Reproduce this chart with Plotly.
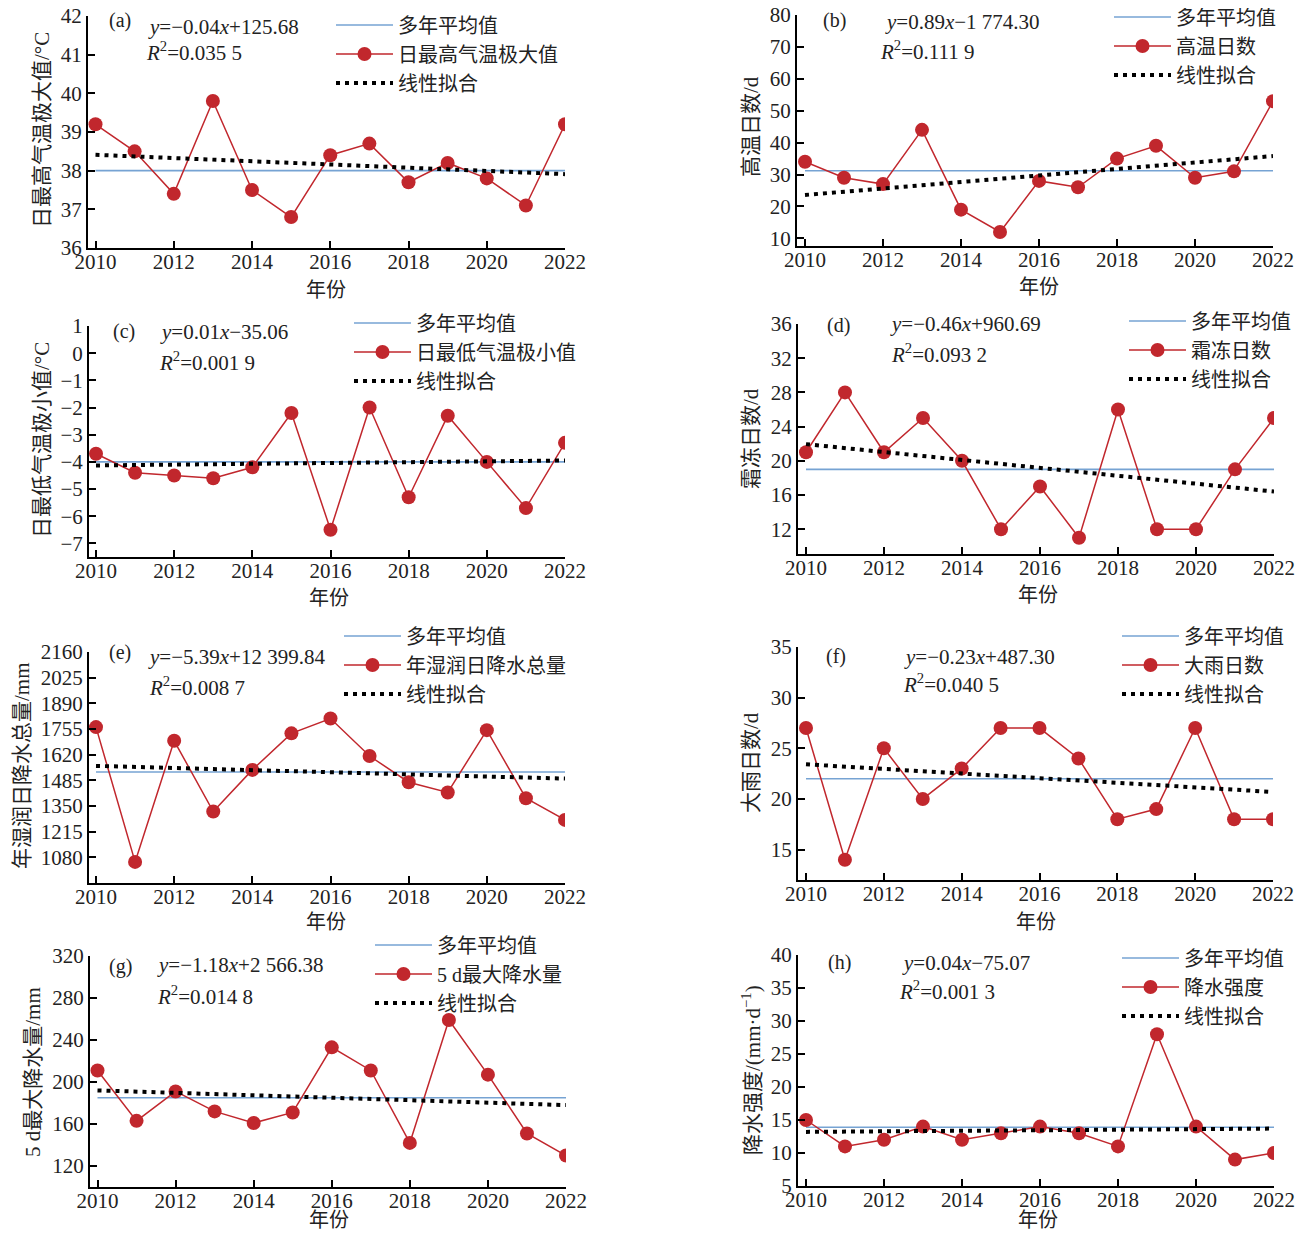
import plotly.graph_objects as go

W, H = 1306, 1238          # browser window
OFF = 8                    # default page margin of the html body
FW, FH = W - 2 * OFF, H - 2 * OFF

years = list(range(2010, 2023))
fit_years = [2010, 2022]

# ---------------- data ----------------
# (a) 日最高气温极大值 /°C
tmax_ext = [39.2, 38.5, 37.4, 39.8, 37.5, 36.8, 38.4, 38.7, 37.7, 38.2, 37.8, 37.1, 39.2]
tmax_mean = 38.0
tmax_fit = [38.41, 37.91]
tmax_ticks = [36, 37, 38, 39, 40, 41, 42]

# (b) 高温日数 /d
hot_days = [34, 29, 27, 44, 19, 12, 28, 26, 35, 39, 29, 31, 53]
hot_mean = 31.2
hot_fit = [23.6, 35.8]
hot_ticks = [10, 20, 30, 40, 50, 60, 70, 80]

# (c) 日最低气温极小值 /°C
tmin_ext = [-3.7, -4.4, -4.5, -4.6, -4.2, -2.2, -6.5, -2.0, -5.3, -2.3, -4.0, -5.7, -3.3]
tmin_mean = -4.0
tmin_fit = [-4.13, -3.95]
tmin_ticks = [-7, -6, -5, -4, -3, -2, -1, 0, 1]

# (d) 霜冻日数 /d
frost_days = [21, 28, 21, 25, 20, 12, 17, 11, 26, 12, 12, 19, 25]
frost_mean = 19.0
frost_fit = [21.95, 16.4]
frost_ticks = [12, 16, 20, 24, 28, 32, 36]

# (e) 年湿润日降水总量 /mm
wet_total = [1765, 1056, 1693, 1321, 1540, 1732, 1810, 1613, 1475, 1421, 1749, 1391, 1277]
wet_mean = 1529
wet_fit = [1561, 1494]
wet_ticks = [1080, 1215, 1350, 1485, 1620, 1755, 1890, 2025, 2160]

# (f) 大雨日数 /d
heavy_days = [27, 14, 25, 20, 23, 27, 27, 24, 18, 19, 27, 18, 18]
heavy_mean = 22.0
heavy_fit = [23.42, 20.69]
heavy_ticks = [15, 20, 25, 30, 35]

# (g) 5 d最大降水量 /mm
rx5 = [211, 163, 191, 172, 161, 171, 233, 211, 142, 259, 207, 151, 130]
rx5_mean = 185
rx5_fit = [192, 178]
rx5_ticks = [120, 160, 200, 240, 280, 320]

# (h) 降水强度 /(mm·d-1)
intensity = [15, 11, 12, 14, 12, 13, 14, 13, 11, 28, 14, 9, 10]
int_mean = 13.9
int_fit = [13.2, 13.7]
int_ticks = [5, 10, 15, 20, 25, 30, 35, 40]

year_ticks = [2010, 2012, 2014, 2016, 2018, 2020, 2022]

# ---------------- style ----------------
FONT = "Times New Roman, Liberation Serif, Noto Sans CJK SC, serif"
TXT = "#222222"
RED = "#C1272D"
BLUE = "#76A3D3"
FS = 21
LFS = 20

def px(x):
    return (x - OFF) / FW

def py(y):
    return 1 - (y - OFF) / FH

panels = [
    dict(name="日最高气温极大值", vals=tmax_ext, mean=tmax_mean, fit=tmax_fit, ticks=tmax_ticks,
         yr=[36, 42], ytitle="日最高气温极大值/°C", lab="(a)",
         eq="<i>y</i>=−0.04<i>x</i>+125.68", r2="<i>R</i><sup>2</sup>=0.035 5",
         box=(88, 95.5, 565, 16, 248), labp=(107, 21), eqp=(146, 27), r2p=(144, 52),
         leg=(338, 25), ytp=(42, 130), xtp=(326, 290)),
    dict(name="高温日数", vals=hot_days, mean=hot_mean, fit=hot_fit, ticks=hot_ticks,
         yr=[7.6, 80], ytitle="高温日数/d", lab="(b)",
         eq="<i>y</i>=0.89<i>x</i>−1 774.30", r2="<i>R</i><sup>2</sup>=0.111 9",
         box=(797, 805, 1273, 15, 246), labp=(821, 21), eqp=(883, 22), r2p=(878, 50),
         leg=(1116, 17), ytp=(751, 127), xtp=(1039, 287)),
    dict(name="日最低气温极小值", vals=tmin_ext, mean=tmin_mean, fit=tmin_fit, ticks=tmin_ticks,
         yr=[-7.5, 1], ytitle="日最低气温极小值/°C", lab="(c)",
         eq="<i>y</i>=0.01<i>x</i>−35.06", r2="<i>R</i><sup>2</sup>=0.001 9",
         box=(89, 96, 565, 326, 557), labp=(111, 331), eqp=(158, 332), r2p=(157, 361),
         leg=(356, 323), ytp=(42, 440), xtp=(329, 598)),
    dict(name="霜冻日数", vals=frost_days, mean=frost_mean, fit=frost_fit, ticks=frost_ticks,
         yr=[9.1, 36], ytitle="霜冻日数/d", lab="(d)",
         eq="<i>y</i>=−0.46<i>x</i>+960.69", r2="<i>R</i><sup>2</sup>=0.093 2",
         box=(798, 806, 1274, 324, 554), labp=(825, 325), eqp=(888, 324), r2p=(889, 353),
         leg=(1131, 321), ytp=(751, 439), xtp=(1038, 595)),
    dict(name="年湿润日降水总量", vals=wet_total, mean=wet_mean, fit=wet_fit, ticks=wet_ticks,
         yr=[945, 2160], ytitle="年湿润日降水总量/mm", lab="(e)",
         eq="<i>y</i>=−5.39<i>x</i>+12 399.84", r2="<i>R</i><sup>2</sup>=0.008 7",
         box=(89, 96, 565, 652, 883), labp=(107, 652), eqp=(146, 657), r2p=(147, 686),
         leg=(346, 636), ytp=(22, 766), xtp=(326, 922)),
    dict(name="大雨日数", vals=heavy_days, mean=heavy_mean, fit=heavy_fit, ticks=heavy_ticks,
         yr=[12, 35], ytitle="大雨日数/d", lab="(f)",
         eq="<i>y</i>=−0.23<i>x</i>+487.30", r2="<i>R</i><sup>2</sup>=0.040 5",
         box=(798, 806, 1273, 647, 880), labp=(824, 657), eqp=(902, 657), r2p=(901, 683),
         leg=(1124, 636), ytp=(751, 763), xtp=(1036, 922)),
    dict(name="5 d最大降水量", vals=rx5, mean=rx5_mean, fit=rx5_fit, ticks=rx5_ticks,
         yr=[100, 320], ytitle="5 d最大降水量/mm", lab="(g)",
         eq="<i>y</i>=−1.18<i>x</i>+2 566.38", r2="<i>R</i><sup>2</sup>=0.014 8",
         box=(90, 97.5, 566, 956, 1187), labp=(107, 966), eqp=(155, 965), r2p=(155, 996),
         leg=(377, 945), ytp=(33, 1072), xtp=(329, 1220)),
    dict(name="降水强度", vals=intensity, mean=int_mean, fit=int_fit, ticks=int_ticks,
         yr=[5, 40], ytitle="降水强度/(mm·d<sup>−1</sup>)", lab="(h)",
         eq="<i>y</i>=0.04<i>x</i>−75.07", r2="<i>R</i><sup>2</sup>=0.001 3",
         box=(798, 806, 1274, 955, 1186), labp=(826, 962), eqp=(900, 963), r2p=(897, 990),
         leg=(1124, 958), ytp=(751, 1070), xtp=(1038, 1220)),
]

fig = go.Figure()
layout = dict(
    width=FW, height=FH, margin=dict(l=0, r=0, t=0, b=0, pad=0, autoexpand=False),
    paper_bgcolor="white", plot_bgcolor="white",
    font=dict(family=FONT, size=FS, color=TXT),
    annotations=[],
)

for i, p in enumerate(panels, start=1):
    sfx = "" if i == 1 else str(i)
    xa, ya = "x" + sfx, "y" + sfx
    leg = "legend" + sfx
    x_axis, x2010, x2022, y_top, y_bot = p["box"]
    ppy = (x2022 - x2010) / 12.0
    xmin = 2010 - (x2010 - x_axis) / ppy

    fig.add_trace(go.Scatter(x=fit_years, y=[p["mean"], p["mean"]], mode="lines",
                             line=dict(color=BLUE, width=1.6), name="多年平均值",
                             xaxis=xa, yaxis=ya, legend=leg))
    fig.add_trace(go.Scatter(x=years, y=p["vals"], mode="lines+markers",
                             line=dict(color=RED, width=1.5),
                             marker=dict(color=RED, size=14, line=dict(width=0)),
                             name=p["name"], xaxis=xa, yaxis=ya, legend=leg))
    fig.add_trace(go.Scatter(x=fit_years, y=p["fit"], mode="lines",
                             line=dict(color="black", width=4, dash="4px,5px"),
                             name="线性拟合", xaxis=xa, yaxis=ya, legend=leg))

    axcommon = dict(showline=True, linecolor="black", linewidth=2, ticks="inside",
                    ticklen=7, tickwidth=2, tickcolor="black", showgrid=False,
                    zeroline=False, automargin=False, ticklabeloverflow="allow",
                    tickfont=dict(family=FONT, size=FS, color=TXT))
    layout["xaxis" + sfx] = dict(domain=[px(x_axis), px(x2022)], range=[xmin, 2022],
                                 anchor=ya, tickmode="array", tickvals=year_ticks,
                                 ticktext=[str(t) for t in year_ticks],
                                 ticklabelstandoff=-6, **axcommon)
    layout["yaxis" + sfx] = dict(domain=[py(y_bot), py(y_top)], range=p["yr"],
                                 anchor=xa, tickmode="array", tickvals=p["ticks"], **axcommon)

    lx, ly = p["leg"]
    layout[leg] = dict(x=px(lx - 7), y=py(ly - 19.5), xanchor="left", yanchor="top",
                       bgcolor="rgba(0,0,0,0)", borderwidth=0, itemwidth=57,
                       tracegroupgap=0, font=dict(family=FONT, size=LFS, color=TXT))

    def ann(text, xy, anchor="left", angle=0, size=FS):
        layout["annotations"].append(dict(
            text=text, x=px(xy[0]), y=py(xy[1]), xref="paper", yref="paper",
            xanchor=anchor, yanchor="middle", showarrow=False, textangle=angle,
            font=dict(family=FONT, size=size, color=TXT)))

    ann(p["lab"], p["labp"], size=20)
    ann(p["eq"], p["eqp"])
    ann(p["r2"], p["r2p"])
    ann(p["ytitle"], p["ytp"], anchor="center", angle=-90)
    ann("年份", p["xtp"], anchor="center", size=20)

fig.update_layout(**layout)
fig.write_html("out.html")
